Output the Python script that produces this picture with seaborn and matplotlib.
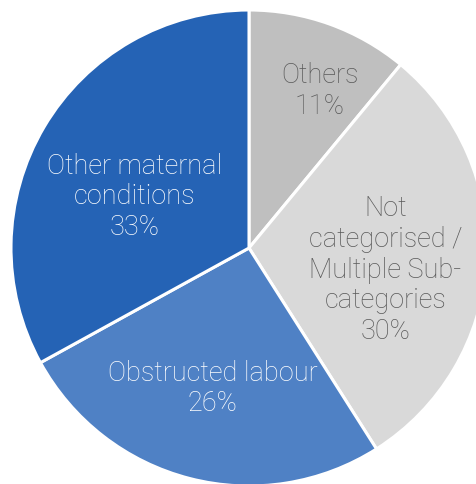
"""Pie chart: share of maternal deaths by cause category."""

import matplotlib.pyplot as plt
import numpy as np
import seaborn as sns

categories = [
    "Others",
    "Not\ncategorised /\nMultiple Sub-\ncategories",
    "Obstructed labour",
    "Other maternal\nconditions",
]
shares = [11, 30, 26, 33]
colors = ["#bfbfbf", "#d9d9d9", "#4f81c5", "#2563b5"]
text_colors = ["#595959", "#595959", "white", "white"]
# label placement: distance from centre (pie radii) and nudge from wedge mid-angle (deg)
label_radius = [0.725, 0.58, 0.61, 0.525]
label_nudge = [-4.5, -5.6, 0.0, 6.5]

sns.set_theme(style="white")
plt.rcParams["font.family"] = ["Roboto", "DejaVu Sans"]

fig = plt.figure(figsize=(4.77, 4.84), dpi=100)
ax = fig.add_axes([0, 0, 1, 1])

wedges, _ = ax.pie(
    shares,
    colors=colors,
    startangle=90,
    counterclock=False,
    radius=1,
    wedgeprops=dict(edgecolor="white", linewidth=2.2),
)

for w, name, pct, tc, r, nd in zip(
    wedges, categories, shares, text_colors, label_radius, label_nudge
):
    mid = np.deg2rad((w.theta1 + w.theta2) / 2 + nd)
    ax.text(
        r * np.cos(mid), r * np.sin(mid), f"{name}\n{pct}%",
        ha="center", va="center", color=tc, fontsize=19.5,
        fontweight="light", linespacing=1.17,
    )

# pie radius 238 px, centre at (249, 248) px from top-left
R = 238
ax.set_xlim(-249 / R, (477 - 249) / R)
ax.set_ylim(-(484 - 248) / R, 248 / R)
ax.set_aspect("equal")
ax.axis("off")

fig.savefig("out.png", dpi=100)
